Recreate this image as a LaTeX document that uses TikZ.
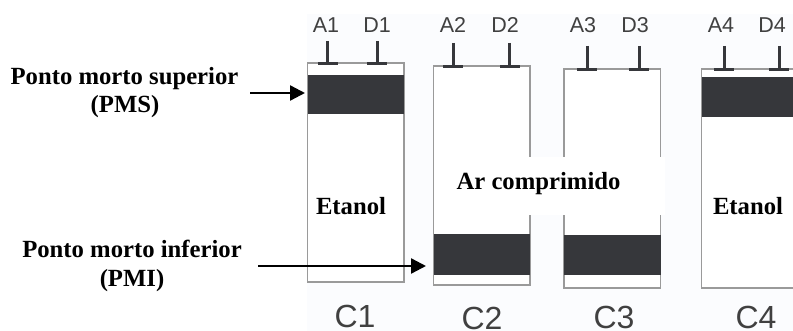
\documentclass[tikz,border=0pt]{standalone}
\usepackage{fontspec}
\setmainfont{Liberation Serif}
\newfontfamily\labelsans{Liberation Sans}
\usetikzlibrary{arrows.meta}
\definecolor{pistoncol}{HTML}{36373B}
\definecolor{wallcol}{HTML}{9A9A9A}
\definecolor{labelcol}{HTML}{404040}
\definecolor{tintcol}{HTML}{FBFCFE}
\tikzset{
  cyl/.style={draw=wallcol,line width=1.2pt,fill=white,minimum width=96.5pt,inner sep=0pt,outer sep=0pt},
  piston/.style={fill=pistoncol,minimum width=96.5pt,inner sep=0pt,outer sep=0pt},
  valve/.style={draw=pistoncol,line width=3pt},
  vbar/.style={fill=pistoncol,minimum width=20pt,minimum height=3pt,inner sep=0pt,outer sep=0pt},
  vlabel/.style={anchor=base,inner sep=0pt,text=labelcol,font=\labelsans\fontsize{21.5}{21.5}\selectfont},
  clabel/.style={anchor=base,inner sep=0pt,text=labelcol,font=\labelsans\fontsize{32}{32}\selectfont},
  btext/.style={anchor=base,inner sep=0pt,font=\bfseries\fontsize{24.7}{24.7}\selectfont},
  pointer/.style={line width=2.4pt,-{Triangle[length=15pt,width=15pt]}},
  patch/.style={fill=white,inner sep=0pt,outer sep=0pt}
}
\newcommand{\valveat}[4]{% name, x, bar y, top y
  \node[vbar] (#1bar) at (#2,#3) {};
  \coordinate (#1top) at (#2,#4);
  \draw[valve] (#1top) -- (#1bar.center);
}
\begin{document}
\begin{tikzpicture}[x=1pt,y=-1pt]
\useasboundingbox (0,0) rectangle (793,331);
\clip (0,0) rectangle (793,331);
\fill[white] (0,0) rectangle (793,331);
\fill[tintcol] (307,14) rectangle (793,331);
% cylinders
\node[cyl,minimum height=219pt] (c1) at (355.75,172.5) {};
\node[cyl,minimum height=219pt] (c2) at (481.75,175.5) {};
\node[cyl,minimum height=219pt] (c3) at (612.25,178.5) {};
\node[cyl,minimum height=219pt] (c4) at (750,178.5) {};
% pistons
\node[piston,minimum height=39pt] (p1) at (355.75,94.5) {};
\node[piston,minimum height=41pt] (p2) at (481.75,254.5) {};
\node[piston,minimum height=40pt] (p3) at (612.25,255) {};
\node[piston,minimum height=40pt] (p4) at (750,97) {};
% white patch behind the middle label
\node[patch,minimum width=230pt,minimum height=58pt] (gap) at (550,186) {};
% valves
\valveat{a1}{327.7}{64}{41}
\valveat{d1}{377}{64}{41}
\valveat{a2}{453}{67}{43}
\valveat{d2}{509.5}{67}{43}
\valveat{a3}{587}{70}{46}
\valveat{d3}{639}{70}{46}
\valveat{a4}{724}{70}{46}
\valveat{d4}{779}{70}{46}
% valve labels
\node[vlabel] (la1) at (326,33) {A1};
\node[vlabel] (ld1) at (377,33) {D1};
\node[vlabel] (la2) at (453,33) {A2};
\node[vlabel] (ld2) at (505,33) {D2};
\node[vlabel] (la3) at (583,33) {A3};
\node[vlabel] (ld3) at (635,33) {D3};
\node[vlabel] (la4) at (721,33) {A4};
\node[vlabel] (ld4) at (772,33) {D4};
% cylinder labels
\node[clabel] (lc1) at (355,327) {C1};
\node[clabel] (lc2) at (482,329) {C2};
\node[clabel] (lc3) at (614,328) {C3};
\node[clabel] (lc4) at (756,328) {C4};
% bold texts
\node[btext] (pms1) at (124.5,85) {Ponto morto superior};
\node[btext] (pms2) at (125,113) {(PMS)};
\node[btext] (pmi1) at (132,258) {Ponto morto inferior};
\node[btext] (pmi2) at (132,287) {(PMI)};
\node[btext] (et1) at (351,215) {Etanol};
\node[btext] (et4) at (748,215) {Etanol};
\node[btext] (ar) at (538.5,190) {Ar comprimido};
% pointers
\coordinate (pmsstart) at (250,93);
\coordinate (pmistart) at (258,266);
\draw[pointer,shorten >=2.5pt] (pmsstart) -- (pmsstart -| p1.west);
\draw[pointer,shorten >=7.5pt] (pmistart) -- (pmistart -| p2.west);
\end{tikzpicture}
\end{document}
